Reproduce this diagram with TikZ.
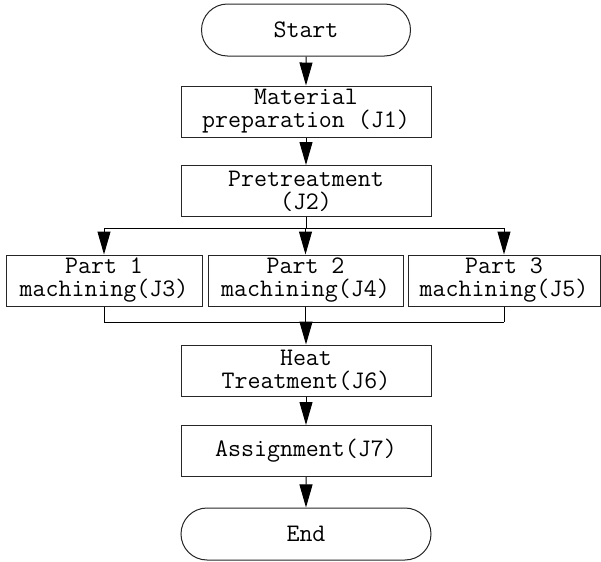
\documentclass[tikz,border=0pt]{standalone}
\usepackage{tikz}
\usetikzlibrary{arrows.meta, shapes.misc}
\tikzset{>={Triangle[length=11.5pt, width=6.5pt]}}
\tikzset{
  stepbox/.style={draw=black!85, line width=0.5pt, rectangle, minimum height=25.5pt, inner sep=0pt,
    align=center, font=\ttfamily\fontsize{12.6}{11.5}\selectfont},
  termbox/.style={stepbox, rounded rectangle, minimum height=26pt},
  flow/.style={draw=black, line width=0.5pt}
}

\begin{document}
\begin{tikzpicture}[x=0.5pt, y=-0.5pt]
\useasboundingbox (0,0) rectangle (601,562);

% Main column
\node[termbox, minimum width=104.5pt] (start) at (306, 30) {Start};
\node[stepbox, minimum width=125pt] (j1) at (306, 111.5) {Material\\preparation (J1)};
\node[stepbox, minimum width=125pt] (j2) at (306, 191) {Pretreatment\\(J2)};

% Parts
\node[stepbox, minimum width=98pt] (j3) at (104, 280.5) {Part 1\\machining(J3)};
\node[stepbox, minimum width=97.5pt] (j4) at (305.5, 280.5) {Part 2\\machining(J4)};
\node[stepbox, minimum width=96pt] (j5) at (504, 280.5) {Part 3\\machining(J5)};

\node[stepbox, minimum width=125pt] (j6) at (306, 370.5) {Heat\\Treatment(J6)};
\node[stepbox, minimum width=125pt] (j7) at (306, 451) {Assignment(J7)};
\node[termbox, minimum width=125pt] (end) at (306, 534) {End};

\coordinate (split) at (306, 228);
\coordinate (join) at (306, 322);

% Connectors
\draw[flow, ->] (start) -- (j1);
\draw[flow, ->] (j1) -- (j2);
\draw[flow] (j2) -- (split);
\draw[flow] (j3 |- split) -- (j5 |- split);
\foreach \p in {j3, j4, j5}{
  \draw[flow, ->] (\p |- split) -- (\p);
  \draw[flow] (\p) -- (\p |- join);
}
\draw[flow] (j3 |- join) -- (j5 |- join);
\draw[flow, ->] (join) -- (j6);
\draw[flow, ->] (j6) -- (j7);
\draw[flow, ->] (j7) -- (end);

\end{tikzpicture}
\end{document}
